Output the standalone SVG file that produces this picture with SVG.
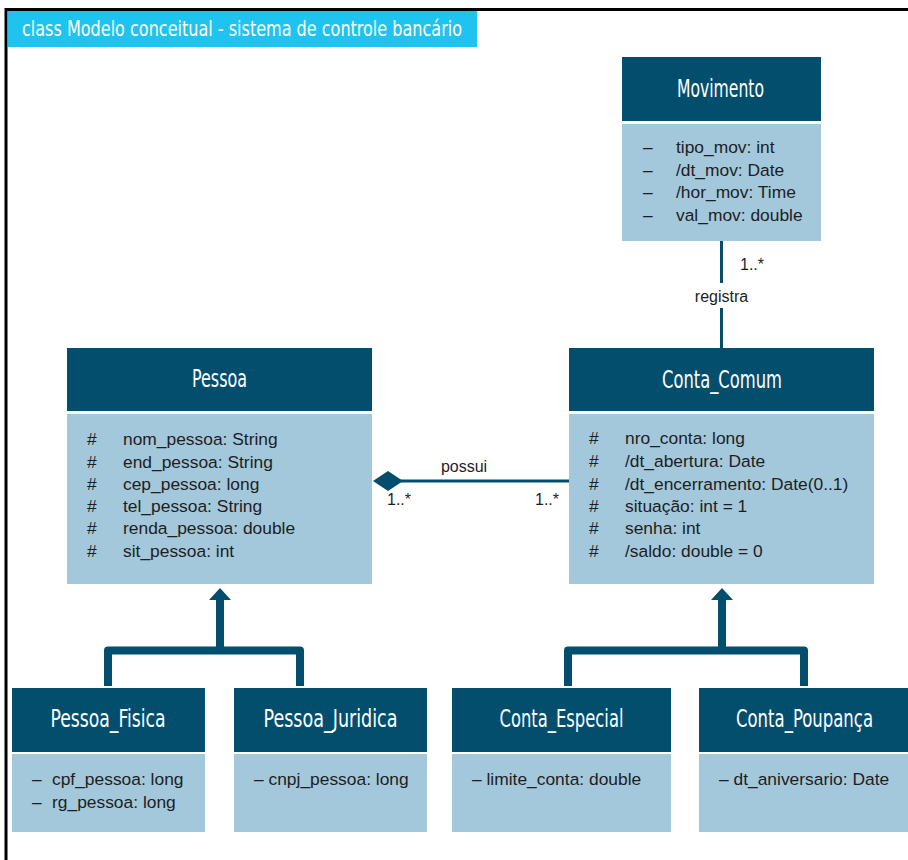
<svg xmlns="http://www.w3.org/2000/svg" width="908" height="860" viewBox="0 0 908 860">
<style>
.hdr{fill:#034e6d}
.bdy{fill:#a3c8dc}
.ht{font-family:"Liberation Sans Narrow","DejaVu Sans Condensed","Liberation Sans",sans-serif;font-size:25px;fill:#ffffff;text-anchor:middle}
.t{font-family:"Liberation Sans",Arial,sans-serif;font-size:17.4px;fill:#1e1e1e}
.lbl{font-family:"Liberation Sans",Arial,sans-serif;font-size:16px;fill:#1e1e1e}
.conn{fill:none;stroke:#034e6d}
.gen{fill:none;stroke:#034e6d;stroke-width:8;stroke-linejoin:round}
.ah{fill:#034e6d}
</style>
<rect x="0" y="0" width="908" height="860" fill="#ffffff"/>
<g id="frame">
<line x1="6" y1="9.5" x2="908" y2="9.5" stroke="#000" stroke-width="3"/>
<line x1="6" y1="8" x2="6" y2="860" stroke="#000" stroke-width="3"/>
<rect x="8" y="11" width="469" height="36" fill="#1fc3f0"/>
<text x="22" y="36" font-family="'Liberation Sans Narrow','DejaVu Sans Condensed','Liberation Sans',sans-serif" font-size="21" fill="#ffffff" textLength="440" lengthAdjust="spacingAndGlyphs">class Modelo conceitual - sistema de controle bancário</text>
</g>

<g id="connectors">
<line class="conn" x1="721.5" y1="241" x2="721.5" y2="283" stroke-width="3"/>
<line class="conn" x1="721.5" y1="308" x2="721.5" y2="348" stroke-width="3"/>
<text class="lbl" x="740" y="270">1..*</text>
<text class="lbl" x="721.5" y="302" text-anchor="middle">registra</text>

<line class="conn" x1="400" y1="481" x2="569" y2="481" stroke-width="3"/>
<polygon class="ah" points="373,481 388,471 403,481 388,491"/>
<text class="lbl" x="464" y="472" text-anchor="middle">possui</text>
<text class="lbl" x="387" y="505">1..*</text>
<text class="lbl" x="535" y="505">1..*</text>

<path class="gen" d="M108,686 V650.5 H300 V686"/>
<line class="gen" x1="220" y1="650.5" x2="220" y2="598"/>
<polygon class="ah" points="220,588 209,600 231,600"/>

<path class="gen" d="M568,686 V650.5 H804 V686"/>
<line class="gen" x1="722" y1="650.5" x2="722" y2="598"/>
<polygon class="ah" points="722,588 711,600 733,600"/>
</g>

<g id="Movimento">
<rect class="hdr" x="622" y="57" width="199" height="64"/>
<rect class="bdy" x="622" y="124" width="199" height="117"/>
<text class="ht" x="720.5" y="97" textLength="87" lengthAdjust="spacingAndGlyphs">Movimento</text>
<text class="t" x="643" y="153">–</text><text class="t" x="676" y="153">tipo_mov: int</text>
<text class="t" x="643" y="176">–</text><text class="t" x="676" y="176">/dt_mov: Date</text>
<text class="t" x="643" y="198">–</text><text class="t" x="676" y="198">/hor_mov: Time</text>
<text class="t" x="643" y="221">–</text><text class="t" x="676" y="221">val_mov: double</text>
</g>

<g id="Pessoa">
<rect class="hdr" x="67" y="348" width="305" height="63"/>
<rect class="bdy" x="67" y="414" width="305" height="170"/>
<text class="ht" x="219.5" y="387" textLength="55" lengthAdjust="spacingAndGlyphs">Pessoa</text>
<text class="t" x="87" y="445">#</text><text class="t" x="123" y="445">nom_pessoa: String</text>
<text class="t" x="87" y="468">#</text><text class="t" x="123" y="468">end_pessoa: String</text>
<text class="t" x="87" y="490">#</text><text class="t" x="123" y="490">cep_pessoa: long</text>
<text class="t" x="87" y="512">#</text><text class="t" x="123" y="512">tel_pessoa: String</text>
<text class="t" x="87" y="534">#</text><text class="t" x="123" y="534">renda_pessoa: double</text>
<text class="t" x="87" y="557">#</text><text class="t" x="123" y="557">sit_pessoa: int</text>
</g>

<g id="Conta_Comum">
<rect class="hdr" x="569" y="348" width="305" height="63"/>
<rect class="bdy" x="569" y="414" width="305" height="170"/>
<text class="ht" x="722" y="388" textLength="120" lengthAdjust="spacingAndGlyphs">Conta_Comum</text>
<text class="t" x="589" y="444">#</text><text class="t" x="625" y="444">nro_conta: long</text>
<text class="t" x="589" y="467">#</text><text class="t" x="625" y="467">/dt_abertura: Date</text>
<text class="t" x="589" y="490">#</text><text class="t" x="625" y="490">/dt_encerramento: Date(0..1)</text>
<text class="t" x="589" y="512">#</text><text class="t" x="625" y="512">situação: int = 1</text>
<text class="t" x="589" y="534">#</text><text class="t" x="625" y="534">senha: int</text>
<text class="t" x="589" y="557">#</text><text class="t" x="625" y="557">/saldo: double = 0</text>
</g>

<g id="Pessoa_Fisica">
<rect class="hdr" x="12" y="688" width="193" height="64"/>
<rect class="bdy" x="12" y="754" width="193" height="78"/>
<text class="ht" x="108" y="727" textLength="115" lengthAdjust="spacingAndGlyphs">Pessoa_Fisica</text>
<text class="t" x="32" y="785">–</text><text class="t" x="52" y="785">cpf_pessoa: long</text>
<text class="t" x="32" y="808">–</text><text class="t" x="52" y="808">rg_pessoa: long</text>
</g>

<g id="Pessoa_Juridica">
<rect class="hdr" x="234" y="688" width="193" height="64"/>
<rect class="bdy" x="234" y="754" width="193" height="78"/>
<text class="ht" x="330.5" y="727" textLength="134" lengthAdjust="spacingAndGlyphs">Pessoa_Juridica</text>
<text class="t" x="254" y="785">– cnpj_pessoa: long</text>
</g>

<g id="Conta_Especial">
<rect class="hdr" x="452" y="688" width="219" height="64"/>
<rect class="bdy" x="452" y="754" width="219" height="78"/>
<text class="ht" x="561.5" y="727" textLength="124" lengthAdjust="spacingAndGlyphs">Conta_Especial</text>
<text class="t" x="472" y="785">– limite_conta: double</text>
</g>

<g id="Conta_Poupanca">
<rect class="hdr" x="699" y="688" width="209" height="64"/>
<rect class="bdy" x="699" y="754" width="209" height="78"/>
<text class="ht" x="804.5" y="727" textLength="137" lengthAdjust="spacingAndGlyphs">Conta_Poupança</text>
<text class="t" x="719" y="785">– dt_aniversario: Date</text>
</g>
</svg>
